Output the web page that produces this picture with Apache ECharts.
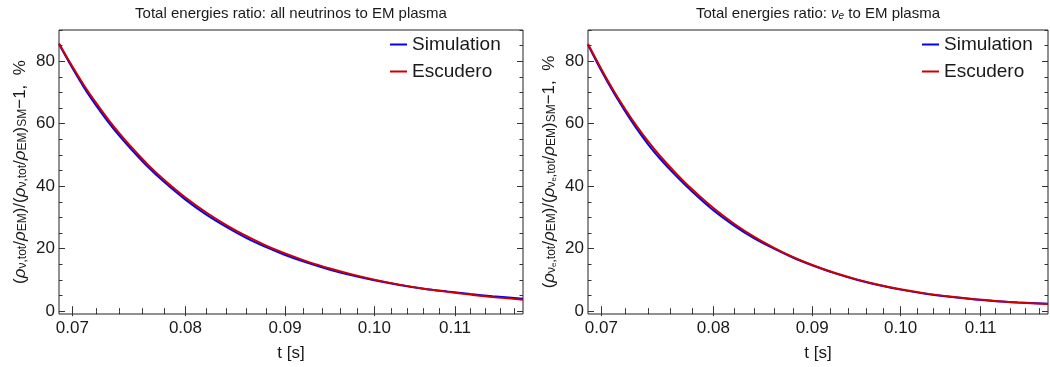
<!DOCTYPE html>
<html>
<head>
<meta charset="utf-8">
<script src="https://cdn.jsdelivr.net/npm/echarts@6/dist/echarts.min.js"></script>
<style>
html,body{margin:0;padding:0;background:#fff;}
#c{width:1050px;height:367px;}
</style>
</head>
<body>
<div id="c"></div>
<script>
// ---- data ----
const tValues = [0.0689, 0.0700, 0.0710, 0.0720, 0.0730, 0.0740, 0.0750, 0.0765, 0.0780, 0.0800,
                 0.0820, 0.0840, 0.0860, 0.0880, 0.0900, 0.0925, 0.0950, 0.0975, 0.1000, 0.1030,
                 0.1060, 0.1090, 0.1120, 0.1150, 0.1192];
const allSim = [85.5, 77.8, 71.4, 65.8, 60.7, 56.1, 52.0, 46.3, 41.4, 35.7,
                30.9, 26.9, 23.4, 20.5, 18.0, 15.4, 13.2, 11.4, 9.9, 8.4,
                7.2, 6.3, 5.5, 4.8, 4.0];
const allEsc = [85.7, 78.3, 72.1, 66.6, 61.5, 56.9, 52.7, 47.0, 42.1, 36.4,
                31.6, 27.5, 24.0, 21.0, 18.5, 15.8, 13.6, 11.7, 10.1, 8.5,
                7.2, 6.2, 5.3, 4.5, 3.7];
const nueSim = [85.3, 77.0, 70.2, 64.1, 58.5, 53.5, 49.1, 43.4, 38.3, 32.3,
                27.4, 23.3, 20.0, 17.1, 14.7, 12.1, 10.0, 8.3, 6.9, 5.6,
                4.6, 3.8, 3.2, 2.8, 2.4];
const nueEsc = [85.5, 77.5, 70.8, 64.8, 59.3, 54.4, 50.0, 44.2, 39.0, 33.0,
                28.0, 23.8, 20.3, 17.3, 14.8, 12.2, 10.1, 8.4, 7.0, 5.7,
                4.7, 3.9, 3.3, 2.8, 2.3];
const xMajorTicks = [0.07, 0.08, 0.09, 0.10, 0.11];
const xMinorTicks = [0.070, 0.072, 0.074, 0.076, 0.078, 0.080, 0.082, 0.084, 0.086, 0.088,
                     0.090, 0.092, 0.094, 0.096, 0.098, 0.100, 0.102, 0.104, 0.106, 0.108,
                     0.110, 0.112, 0.114, 0.116, 0.118];
const yMajorTicks = [0, 20, 40, 60, 80];
const yMinorTicks = [0, 5, 10, 15, 20, 25, 30, 35, 40, 45, 50, 55, 60, 65, 70, 75, 80, 85, 90];
const seriesNames = ['Simulation', 'Escudero'];
const titles = ['Total energies ratio: all neutrinos to EM plasma',
                'Total energies ratio: {it|ν}{sub|e} to EM plasma'];
const xName = 't [s]';
const yNames = [
  '{n|(}{g|ρ}{s|ν,tot}{n|/}{g|ρ}{s|EM}{n|)/(}{g|ρ}{s|ν,tot}{n|/}{g|ρ}{s|EM}{n|)}{s|SM}{n|−1,  %}',
  '{n|(}{g|ρ}{s|ν}{ss|e}{s|,tot}{n|/}{g|ρ}{s|EM}{n|)/(}{g|ρ}{s|ν}{ss|e}{s|,tot}{n|/}{g|ρ}{s|EM}{n|)}{s|SM}{n|−1,  %}'
];
const tMin = 0.0689, tMax = 0.1192, yMin = -0.9, yMax = 90;

// ---- chart ----
const FONT = '"Liberation Sans", Arial, sans-serif';
const TXT = '#1a1a1a';
const lg = v => Math.log10(v);
const grids = [
  {left: 59, right: 527, top: 30, bottom: 52},
  {left: 588, right: 2, top: 30, bottom: 52}
];
const richY = {
  n: {fontSize: 17, fontFamily: FONT, color: TXT},
  g: {fontSize: 17, fontFamily: FONT, color: TXT, fontStyle: 'italic'},
  s: {fontSize: 12, fontFamily: FONT, color: TXT, verticalAlign: 'bottom', padding: [6, 0, 0, 0]},
  ss: {fontSize: 8, fontFamily: FONT, color: TXT, verticalAlign: 'bottom', padding: [9, 0, 0, 0]}
};
const xAxes = [], yAxes = [], series = [], legends = [], titleArr = [];
grids.forEach((g, gi) => {
  const xBase = {
    type: 'value', gridIndex: gi, min: lg(tMin), max: lg(tMax),
    splitLine: {show: false}, axisLine: {show: false}
  };
  const mkX = (pos, ticks, len, labels) => Object.assign({}, xBase, {
    position: pos,
    axisTick: {show: true, inside: true, length: len, customValues: ticks.map(lg),
               lineStyle: {color: '#333', width: 1}},
    axisLabel: labels ? {show: true, customValues: ticks.map(lg), margin: 6,
               fontSize: 17, fontFamily: FONT, color: TXT,
               formatter: v => Math.pow(10, v).toFixed(2)} : {show: false}
  });
  const xa = mkX('bottom', xMajorTicks, 5, true);
  xa.name = xName; xa.nameLocation = 'middle'; xa.nameGap = 31;
  xa.nameTextStyle = {fontSize: 17, fontFamily: FONT, color: TXT};
  xAxes.push(xa, mkX('bottom', xMinorTicks, 3, false), mkX('top', xMajorTicks, 5, false), mkX('top', xMinorTicks, 3, false));

  const yBase = {type: 'value', gridIndex: gi, min: yMin, max: yMax,
                 splitLine: {show: false}, axisLine: {show: false}};
  const mkY = (pos, ticks, len, labels) => Object.assign({}, yBase, {
    position: pos,
    axisTick: {show: true, inside: true, length: len, customValues: ticks,
               lineStyle: {color: '#333', width: 1}},
    axisLabel: labels ? {show: true, customValues: ticks, margin: 4,
               fontSize: 17, fontFamily: FONT, color: TXT} : {show: false}
  });
  const ya = mkY('left', yMajorTicks, 6, true);
  ya.name = yNames[gi]; ya.nameLocation = 'middle'; ya.nameGap = 30; ya.nameRotate = 90;
  ya.nameTextStyle = {rich: richY};
  yAxes.push(ya, mkY('left', yMinorTicks, 3.5, false), mkY('right', yMajorTicks, 6, false), mkY('right', yMinorTicks, 3.5, false));

  const sim = gi === 0 ? allSim : nueSim;
  const esc = gi === 0 ? allEsc : nueEsc;
  series.push({
    type: 'line', name: seriesNames[0], xAxisIndex: gi * 4, yAxisIndex: gi * 4,
    data: tValues.map((t, i) => [lg(t), sim[i]]), smooth: 0.3, showSymbol: false,
    lineStyle: {color: '#0000ff', width: 2}, itemStyle: {color: '#0000ff'}, z: 2
  }, {
    type: 'line', name: seriesNames[1], xAxisIndex: gi * 4, yAxisIndex: gi * 4,
    data: tValues.map((t, i) => [lg(t), esc[i]]), smooth: 0.3, showSymbol: false,
    lineStyle: {color: '#cc0000', width: 2}, itemStyle: {color: '#cc0000'}, z: 3
  });
  legends.push({
    data: seriesNames, orient: 'vertical', left: gi === 0 ? 390 : 922, top: 35,
    itemWidth: 17, itemHeight: 2, itemGap: 8, icon: 'rect',
    textStyle: {fontSize: 19, fontFamily: FONT, color: TXT, padding: [0, 0, 0, 0]},
    padding: 0, selectedMode: false
  });
  titleArr.push({
    text: titles[gi], left: (g.left + (1050 - g.right)) / 2, top: 6, textAlign: 'center', padding: 0,
    textStyle: {fontSize: 15, fontWeight: 'normal', fontFamily: FONT, color: TXT,
      rich: {
        it: {fontSize: 15, fontStyle: 'italic', fontFamily: FONT, color: TXT},
        sub: {fontSize: 10, fontStyle: 'italic', fontFamily: FONT, color: TXT, verticalAlign: 'bottom', padding: [5, 0, 0, 0]}
      }}
  });
});
grids.forEach(g => { g.show = true; g.borderColor = '#222'; g.borderWidth = 1; g.backgroundColor = 'transparent'; });

const chart = echarts.init(document.getElementById('c'), null, {renderer: 'canvas'});
chart.setOption({
  animation: false,
  backgroundColor: '#fff',
  title: titleArr,
  grid: grids,
  xAxis: xAxes,
  yAxis: yAxes,
  legend: legends,
  series: series
});
</script>
</body>
</html>
